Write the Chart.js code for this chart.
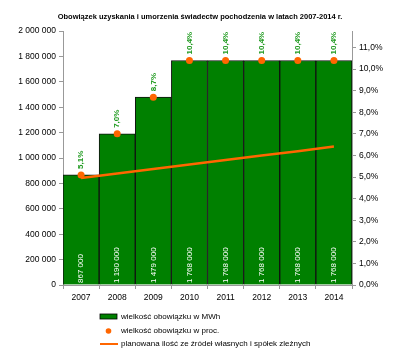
<!DOCTYPE html>
<html>
<head>
<meta charset="utf-8">
<script src="https://cdn.jsdelivr.net/npm/chart.js@4.4.1/dist/chart.umd.min.js"></script>
<style>
  body { margin: 0; background: #fff; }
  #wrap { width: 400px; height: 360px; }
</style>
</head>
<body>
<div id="wrap"><canvas id="chart" width="400" height="360"></canvas></div>
<script>
const years = ['2007', '2008', '2009', '2010', '2011', '2012', '2013', '2014'];
const obligationMWh = [867000, 1190000, 1479000, 1768000, 1768000, 1768000, 1768000, 1768000];
const obligationPct = [5.1, 7.0, 8.7, 10.4, 10.4, 10.4, 10.4, 10.4];
const plannedMWh = [843000, 878000, 913000, 948000, 984000, 1019000, 1054000, 1090000];

const FONT = '"Liberation Sans", Arial, sans-serif';
const GREEN = '#008000';
const ORANGE = '#ff6600';

const fmtThousands = v => String(v).replace(/\B(?=(\d{3})+(?!\d))/g, ' ');
const fmtPct = v => v.toFixed(1).replace('.', ',') + '%';

// etykiety na słupkach i nad punktami
const valueLabels = {
    id: 'valueLabels',
    afterDatasetsDraw(chart) {
        const ctx = chart.ctx;
        const bottom = chart.chartArea.bottom;
        const bars = chart.getDatasetMeta(2).data;
        ctx.save();
        ctx.font = '8px ' + FONT;
        ctx.fillStyle = '#fff';
        ctx.textAlign = 'left';
        ctx.textBaseline = 'middle';
        bars.forEach((bar, i) => {
            ctx.save();
            ctx.translate(bar.x, bottom - 2);
            ctx.rotate(-Math.PI / 2);
            ctx.fillText(fmtThousands(obligationMWh[i]), 0, 0);
            ctx.restore();
        });
        const pts = chart.getDatasetMeta(0).data;
        ctx.font = 'bold 8px ' + FONT;
        ctx.fillStyle = '#1f9a1f';
        pts.forEach((pt, i) => {
            ctx.save();
            ctx.translate(pt.x, pt.y - 6);
            ctx.rotate(-Math.PI / 2);
            ctx.fillText(fmtPct(obligationPct[i]), 0, 0);
            ctx.restore();
        });
        ctx.restore();
    }
};

// legenda w kolumnie pod wykresem
const columnLegend = {
    id: 'columnLegend',
    afterDraw(chart) {
        const ctx = chart.ctx;
        const x0 = 100, tx = 121;
        ctx.save();
        ctx.font = '8px ' + FONT;
        ctx.textAlign = 'left';
        ctx.textBaseline = 'middle';

        ctx.fillStyle = GREEN;
        ctx.fillRect(x0, 314, 17, 5);
        ctx.strokeStyle = '#000';
        ctx.lineWidth = 0.8;
        ctx.strokeRect(x0, 314, 17, 5);
        ctx.fillStyle = '#000';
        ctx.fillText(chart.data.datasets[2].label, tx, 316.5);

        ctx.fillStyle = ORANGE;
        ctx.beginPath();
        ctx.arc(x0 + 8.5, 331, 2.8, 0, Math.PI * 2);
        ctx.fill();
        ctx.fillStyle = '#000';
        ctx.fillText(chart.data.datasets[0].label, tx, 331);

        ctx.strokeStyle = ORANGE;
        ctx.lineWidth = 2;
        ctx.beginPath();
        ctx.moveTo(x0, 344);
        ctx.lineTo(x0 + 18, 344);
        ctx.stroke();
        ctx.fillText(chart.data.datasets[1].label, tx, 344);
        ctx.restore();
    }
};

new Chart(document.getElementById('chart').getContext('2d'), {
    data: {
        labels: years,
        datasets: [
            {
                type: 'line',
                label: 'wielkość obowiązku w proc.',
                data: obligationPct,
                yAxisID: 'y1',
                showLine: false,
                pointRadius: 3.5,
                pointBackgroundColor: ORANGE,
                pointBorderWidth: 0,
                order: 0
            },
            {
                type: 'line',
                label: 'planowana ilość ze źródeł własnych i spółek zleżnych',
                data: plannedMWh,
                yAxisID: 'y',
                borderColor: ORANGE,
                borderWidth: 2.5,
                pointRadius: 0,
                tension: 0,
                order: 1
            },
            {
                type: 'bar',
                label: 'wielkość obowiązku w MWh',
                data: obligationMWh,
                yAxisID: 'y',
                backgroundColor: GREEN,
                borderColor: '#111',
                borderWidth: 1,
                barPercentage: 1,
                categoryPercentage: 1,
                order: 2
            }
        ]
    },
    options: {
        responsive: false,
        animation: false,
        layout: { padding: 0 },
        plugins: {
            legend: { display: false },
            tooltip: { enabled: false },
            title: {
                display: true,
                text: 'Obowiązek uzyskania i umorzenia świadectw pochodzenia w latach 2007-2014 r.',
                color: '#000',
                font: { family: FONT, size: 7.5, weight: 'bold' },
                padding: { top: 12, bottom: 10 }
            }
        },
        scales: {
            x: {
                grid: { display: true, drawOnChartArea: false, tickLength: 4, color: '#999', offset: true },
                border: { color: '#999' },
                ticks: { color: '#000', font: { family: FONT, size: 8.5 }, padding: 4 },
                afterFit(scale) { scale.height = 75; }
            },
            y: {
                position: 'left',
                min: 0,
                max: 2000000,
                grid: { drawOnChartArea: false, tickLength: 4, color: '#999' },
                border: { color: '#999' },
                ticks: {
                    stepSize: 200000,
                    color: '#000',
                    font: { family: FONT, size: 8.5 },
                    padding: 3,
                    callback: v => fmtThousands(v)
                },
                afterFit(scale) { scale.width = 63; }
            },
            y1: {
                position: 'right',
                min: 0,
                max: 11.765,
                grid: { drawOnChartArea: false, tickLength: 4, color: '#999' },
                border: { color: '#999' },
                ticks: {
                    stepSize: 1,
                    color: '#000',
                    font: { family: FONT, size: 8.5 },
                    padding: 3,
                    callback: v => fmtPct(v)
                },
                afterBuildTicks(scale) { scale.ticks = scale.ticks.filter(t => t.value <= 11.0001); },
                afterFit(scale) { scale.width = 48; }
            }
        }
    },
    plugins: [valueLabels, columnLegend]
});
</script>
</body>
</html>
